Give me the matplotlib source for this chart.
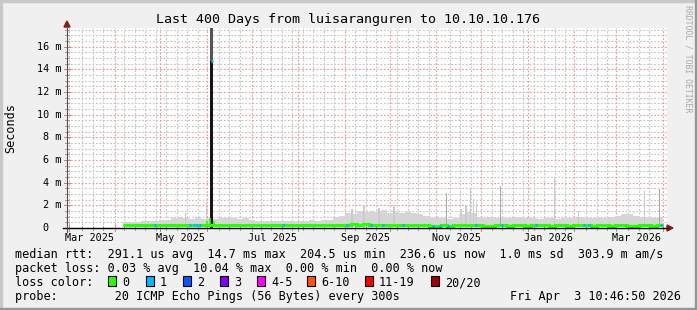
import matplotlib

matplotlib.use("Agg")
import matplotlib.pyplot as plt
import matplotlib.dates as mdates
import matplotlib.transforms as mtransforms
from matplotlib.patches import Rectangle, Polygon
from matplotlib.lines import Line2D
import numpy as np
import pandas as pd

W, H = 697, 310
MONO = "DejaVu Sans Mono"

# 400 day window on the time axis
t_start = "2025-02-28"
t_end = "2026-04-04"
y_max = 17.65  # ms

# smoke: upper edge of the ping spread (ms), one value per 4 day bin
bin_start = "2025-04-06"
bin_days = 4
smoke_floor = 0.2
smoke_top = [
    0.50, 0.55, 0.55, 0.60, 0.60, 0.65, 0.70, 0.75, 0.90, 1.00,
    0.85, 0.80, 0.90, 0.80, 0.90, 0.80, 0.90, 0.85, 0.90, 0.80,
    0.85, 0.70, 0.65, 0.60, 0.60, 0.65, 0.60, 0.60, 0.65, 0.60,
    0.65, 0.70, 0.65, 0.70, 0.75, 1.00, 1.10, 1.30, 1.20, 1.50,
    1.40, 1.50, 1.40, 1.60, 1.30, 1.40, 1.30, 1.45, 1.30, 1.20,
    1.10, 0.95, 0.85, 0.90, 0.80, 0.90, 1.20, 1.40, 1.30, 1.00,
    0.90, 0.95, 0.90, 1.00, 0.90, 0.95, 1.00, 0.90, 0.85, 0.80,
    0.90, 0.85, 0.80, 0.90, 0.85, 0.90, 0.95, 0.85, 0.90, 0.95,
    0.90, 1.00, 1.10, 1.20, 1.25, 1.10, 1.00, 0.95, 0.90, 0.95,
]
median_rtt = [
    0.24, 0.24, 0.24, 0.24, 0.24, 0.24, 0.24, 0.24, 0.24, 0.24,
    0.24, 0.24, 0.24, 0.24, 0.27, 0.27, 0.27, 0.27, 0.27, 0.27,
    0.27, 0.27, 0.27, 0.27, 0.27, 0.27, 0.27, 0.27, 0.27, 0.27,
    0.27, 0.27, 0.27, 0.27, 0.27, 0.30, 0.30, 0.30, 0.36, 0.30,
    0.36, 0.30, 0.30, 0.30, 0.30, 0.30, 0.30, 0.30, 0.30, 0.30,
    0.30, 0.22, 0.22, 0.30, 0.22, 0.30, 0.30, 0.30, 0.30, 0.30,
    0.22, 0.22, 0.30, 0.30, 0.22, 0.30, 0.30, 0.22, 0.30, 0.30,
    0.30, 0.22, 0.30, 0.30, 0.22, 0.30, 0.30, 0.30, 0.22, 0.30,
    0.30, 0.22, 0.30, 0.30, 0.22, 0.22, 0.30, 0.30, 0.22, 0.30,
]

# narrow smoke spikes
spike_dates = [
    "2025-05-18", "2025-06-01", "2025-09-06", "2025-09-14", "2025-09-24",
    "2025-10-04", "2025-11-08", "2025-11-18", "2025-11-21", "2025-11-24",
    "2025-11-26", "2025-11-28", "2025-12-14", "2026-01-19", "2026-02-04",
    "2026-03-20", "2026-03-30",
]
spike_tops = [1.3, 2.2, 1.7, 2.0, 1.8, 1.9, 3.1, 1.7, 2.0, 3.5, 2.6, 2.3, 3.7, 4.5, 1.5, 3.3, 3.4]
spike_dark = [0, 0, 0, 0, 0, 0, 1, 0, 0, 0, 0, 0, 1, 0, 0, 0, 1]

# the outage in early June 2025
outage_date = "2025-06-04 12:00"
outage_median = 14.7
bump_dates = ["2025-06-01 00:00", "2025-06-03 12:00", "2025-06-06 00:00"]
bump_vals = [0.6, 0.9, 0.6]

# days with 1 of 20 pings lost
loss1_dates = [
    "2025-04-27", "2025-05-20", "2025-05-23", "2025-05-25", "2025-05-27",
    "2025-07-21", "2025-09-02", "2025-09-18", "2025-09-26", "2025-10-09",
    "2025-10-29", "2025-11-03", "2025-11-08", "2025-11-27", "2025-12-14",
    "2026-01-06", "2026-02-07", "2026-02-10", "2026-03-30",
]

loss_labels = ["0", "1", "2", "3", "4-5", "6-10", "11-19", "20/20"]
loss_colors = ["#26ff00", "#00b8ff", "#0059ff", "#7e00ff", "#ff00ff", "#ff5500", "#ff0000", "#a10000"]

legend_lines = [
    "median rtt:  291.1 us avg  14.7 ms max  204.5 us min  236.6 us now  1.0 ms sd  303.9 m am/s",
    "packet loss: 0.03 % avg  10.04 % max  0.00 % min  0.00 % now",
    "loss color:",
    "probe:        20 ICMP Echo Pings (56 Bytes) every 300s",
]


def fx(x):
    return x / W


def fy(y):
    return 1 - y / H


def main():
    fig = plt.figure(figsize=(W / 100, H / 100), dpi=100, facecolor="#f0f0f0")
    ax = fig.add_axes([fx(67), fy(228), 600 / W, 200 / H])
    ax.set_facecolor("white")
    t0, t1 = mdates.date2num(pd.to_datetime([t_start, t_end]))
    ax.set_xlim(t0, t1)
    ax.set_ylim(0, y_max)
    for s in ax.spines.values():
        s.set_visible(False)
    ax.set_xticks([])
    ax.set_yticks([])

    trans_x = mtransforms.blended_transform_factory(ax.transData, fig.transFigure)
    trans_y = mtransforms.blended_transform_factory(fig.transFigure, ax.transData)

    # grid (dotted, rrdtool style)
    dot = dict(linewidth=0.8, linestyle=(0, (1.6, 1.6)), zorder=0)
    minor_c, major_c = "#c4c4c4", "#f09a9a"
    weeks = mdates.date2num(pd.date_range("2025-03-03", "2026-03-30", freq="W-MON"))
    months = mdates.date2num(pd.date_range("2025-03-01", "2026-04-01", freq="MS"))
    for v in np.arange(0.5, y_max, 0.5):
        if v % 2:
            ax.axhline(v, color=minor_c, **dot)
            ax.add_line(Line2D([fx(65), fx(69)], [v, v], transform=trans_y,
                               color="#a0a0a0", lw=0.72, clip_on=False))
    for w in weeks:
        if np.min(np.abs(months - w)) < 2.5:
            continue
        ax.axvline(w, color=minor_c, **dot)
        ax.add_line(Line2D([w, w], [fy(226), fy(230)], transform=trans_x,
                           color="#a0a0a0", lw=0.72, clip_on=False))
    for v in np.arange(2, y_max, 2):
        ax.axhline(v, color=major_c, **dot)
        ax.add_line(Line2D([fx(64), fx(70)], [v, v], transform=trans_y,
                           color="#d88080", lw=0.72, clip_on=False))
    for m in months:
        ax.axvline(m, color=major_c, **dot)
        ax.add_line(Line2D([m, m], [fy(225), fy(231)], transform=trans_x,
                           color="#d88080", lw=0.72, clip_on=False))

    # smoke
    edges = mdates.date2num(
        pd.date_range(bin_start, periods=len(smoke_top) + 1, freq=f"{bin_days}D")
    )
    ax.stairs(smoke_top, edges, baseline=smoke_floor, fill=True,
              color="#d6d6d6", zorder=2)
    sd = mdates.date2num(pd.to_datetime(spike_dates))
    tops = np.array(spike_tops)
    cols = ["#a9a9a9" if d else "#cbcbcb" for d in spike_dark]
    ax.bar(sd, tops - smoke_floor, bottom=smoke_floor, width=1.0, color=cols,
           linewidth=0, zorder=3)

    # outage spike
    od = mdates.date2num(pd.Timestamp(outage_date))
    ax.bar(od, y_max, width=2.0, color="#555555", linewidth=0, zorder=4)
    ax.bar(od, outage_median, width=2.0, color="#151515", linewidth=0, zorder=4)

    # median line coloured by loss
    ax.stairs(median_rtt, edges, baseline=None, color=loss_colors[0], lw=2.2, zorder=5)
    bd = mdates.date2num(pd.to_datetime(bump_dates))
    ax.vlines(bd, 0.25, bump_vals, color=loss_colors[0], lw=1.2, zorder=5)
    for d in mdates.date2num(pd.to_datetime(loss1_dates)):
        i = min(int((d - edges[0]) // bin_days), len(median_rtt) - 1)
        ax.hlines(median_rtt[i], d, d + 1.5, color=loss_colors[1], lw=2.2, zorder=6)
    ax.hlines(outage_median, od - 0.8, od + 0.8, color=loss_colors[1], lw=2.4, zorder=6)

    # axes lines and arrows
    fig.add_artist(Line2D([fx(63), fx(668)], [fy(228), fy(228)], color="black", lw=1.0))
    fig.add_artist(Line2D([fx(67), fx(67)], [fy(232), fy(26)], color="#505050", lw=0.8))
    arrow_c = "#8b1a1a"
    fig.add_artist(Polygon([(fx(667), fy(225)), (fx(673), fy(228)), (fx(667), fy(231))],
                           closed=True, color=arrow_c, transform=fig.transFigure))
    fig.add_artist(Polygon([(fx(64), fy(27)), (fx(67), fy(21)), (fx(70), fy(27))],
                           closed=True, color=arrow_c, transform=fig.transFigure))

    # tick labels
    label_months = pd.date_range("2025-03-01", "2026-03-01", freq="2MS") + pd.Timedelta(days=14)
    for lm in label_months:
        ax.text(mdates.date2num(lm), fy(241), lm.strftime("%b %Y"), transform=trans_x,
                ha="center", va="baseline", family=MONO, fontsize=7.3)
    for v in range(0, 17, 2):
        s = f"{v} m" if v else "0  "
        ax.text(fx(61), v, s, transform=trans_y, ha="right", va="center",
                family=MONO, fontsize=7.3)

    # titles
    fig.text(fx(348.5), fy(23), "Last 400 Days from luisaranguren to 10.10.10.176",
             ha="center", va="baseline", family=MONO, fontsize=9.6)
    fig.text(fx(10.5), fy(128), "Seconds", rotation=90, ha="center", va="center",
             family=MONO, fontsize=8.5)
    fig.text(fx(688), fy(5), "RRDTOOL / TOBI OETIKER", rotation=270, ha="center",
             va="top", family=MONO, fontsize=5.9, color="#a8a8a8")

    # legend
    for s, base in zip(legend_lines, [258, 272, 286, 300]):
        fig.text(fx(15), fy(base), s, ha="left", va="baseline", family=MONO, fontsize=8.5)
    box_x = [108, 145.7, 182.7, 220, 257.3, 307.3, 365, 430.7]
    for bx, lab, c in zip(box_x, loss_labels, loss_colors):
        fig.add_artist(Rectangle((fx(bx), fy(286)), 8 / W, 10 / H, facecolor=c,
                                 edgecolor="black", lw=0.8, transform=fig.transFigure))
        fig.text(fx(bx + 14), fy(286), lab, ha="left", va="baseline",
                 family=MONO, fontsize=8.5)
    fig.text(fx(681), fy(300), "Fri Apr  3 10:46:50 2026", ha="right", va="baseline",
             family=MONO, fontsize=8.5)

    # 3d frame
    fig.add_artist(Rectangle((0, fy(2)), 1, 2 / H, color="#c8c8c8", transform=fig.transFigure))
    fig.add_artist(Rectangle((0, 0), 2 / W, 1, color="#c8c8c8", transform=fig.transFigure))
    fig.add_artist(Rectangle((0, 0), 1, 2 / H, color="#969696", transform=fig.transFigure))
    fig.add_artist(Rectangle((1 - 2 / W, 0), 2 / W, 1, color="#969696", transform=fig.transFigure))

    fig.savefig("out.png", dpi=100, facecolor=fig.get_facecolor())


if __name__ == "__main__":
    main()
